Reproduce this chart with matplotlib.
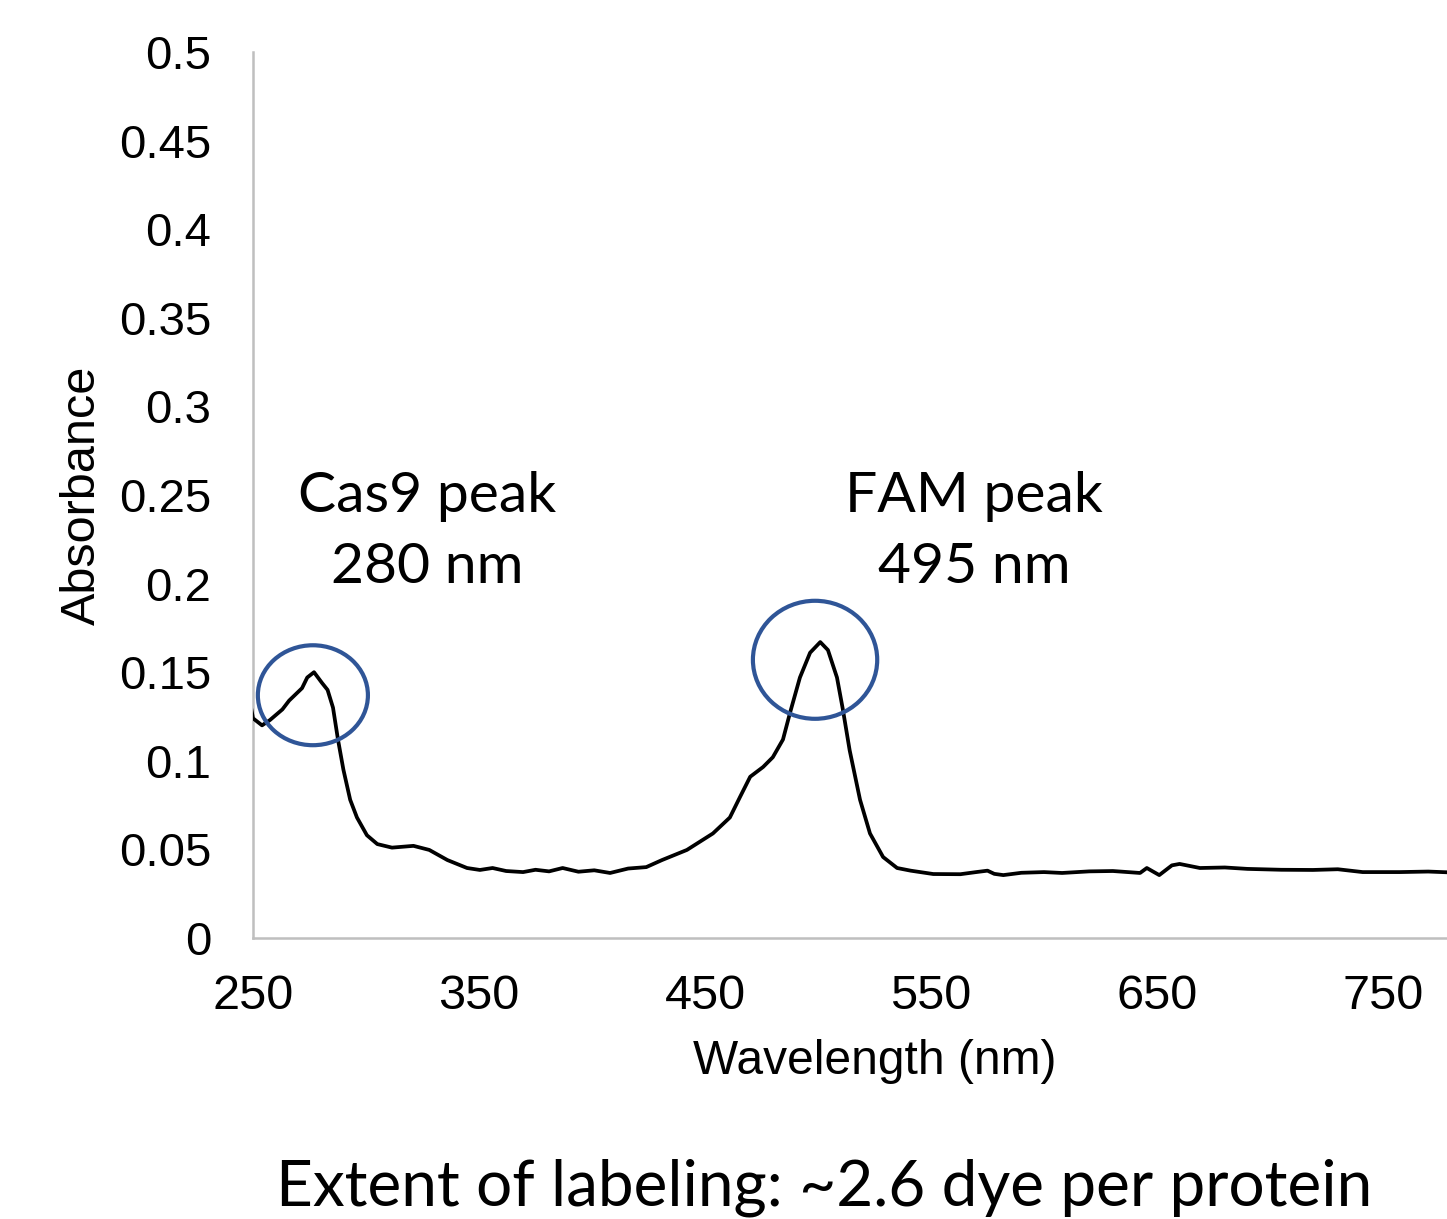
import numpy as np
import matplotlib
matplotlib.use("Agg")
import matplotlib.pyplot as plt
from matplotlib.patches import Ellipse

# ─── Data ───────────────────────────────────────────────────────────
wavelength = [249, 250, 254, 257.5, 263, 266, 271.7, 274, 277, 280.5, 283,
              285.4, 287.6, 290, 293, 296, 300.4, 305, 311.5, 321, 328, 336,
              344.7, 350.4, 356, 362, 369.5, 375, 381, 387, 394, 401, 408,
              416, 424, 431, 442, 453.5, 461, 465.5, 470, 475.7, 480, 484.5,
              487.6, 492, 496.5, 501, 504.4, 508.4, 511, 514, 518.6, 523,
              528.8, 535, 541, 551, 563, 570, 575, 578, 582, 590, 600, 608,
              620, 630.5, 642.5, 645.5, 651, 656.6, 660, 669, 680, 690, 705,
              719, 730, 741, 757.5, 770, 780]
absorbance = [0.131, 0.124, 0.120, 0.123, 0.129, 0.134, 0.141, 0.147, 0.150,
              0.144, 0.140, 0.130, 0.112, 0.095, 0.078, 0.068, 0.058, 0.053,
              0.051, 0.052, 0.0497, 0.044, 0.0395, 0.0384, 0.0395, 0.0378,
              0.0372, 0.0385, 0.0376, 0.0395, 0.0374, 0.0382, 0.0367, 0.0392,
              0.040, 0.044, 0.0497, 0.059, 0.068, 0.0796, 0.091, 0.0965,
              0.102, 0.112, 0.127, 0.147, 0.161, 0.167, 0.1625, 0.147, 0.129,
              0.106, 0.078, 0.059, 0.0457, 0.0395, 0.038, 0.0361, 0.036,
              0.0372, 0.038, 0.0362, 0.0355, 0.0368, 0.0372, 0.0367, 0.0376,
              0.0378, 0.0367, 0.0395, 0.0355, 0.041, 0.0418, 0.0395, 0.0398,
              0.039, 0.0385, 0.0384, 0.0388, 0.0372, 0.0372, 0.0375, 0.037]

peaks = [
    # (label, circle centre x, centre y, width nm, height abs, text x, text y)
    ("Cas9 peak\n280 nm", 276.5, 0.137, 48.7, 0.0564, 327, 0.229),
    ("FAM peak\n495 nm", 498.7, 0.157, 55.0, 0.0666, 569, 0.229),
]

BLUE = "#2F5597"
GRID = "#BFBFBF"

fig = plt.figure(figsize=(14.47, 12.19), dpi=100)
ax = fig.add_axes([253 / 1447, 281 / 1219, 1243 / 1447, 886 / 1219])

ax.plot(wavelength, absorbance, color="black", linewidth=2.7, zorder=3)

for label, cx, cy, w, h, tx, ty in peaks:
    ax.add_patch(Ellipse((cx, cy), w, h, fill=False, edgecolor=BLUE,
                         linewidth=3, zorder=4))
    ax.text(tx, ty, label, ha="center", va="center", fontsize=41,
            family="Lato", linespacing=1.5)

ax.set_xlim(250, 800)
ax.set_ylim(0, 0.5)
ax.set_xticks(np.arange(250, 800, 100))
ax.set_yticks(np.arange(0, 0.501, 0.05))
ax.set_yticklabels(["0", "0.05", "0.1", "0.15", "0.2", "0.25", "0.3",
                    "0.35", "0.4", "0.45", "0.5"])
ax.tick_params(length=0, labelsize=34, pad=30)
ax.tick_params(axis="x", labelsize=35, pad=26)
for lab in ax.get_xticklabels() + ax.get_yticklabels():
    lab.set_family("Liberation Sans")

for side in ["top", "right"]:
    ax.spines[side].set_visible(False)
for side in ["left", "bottom"]:
    ax.spines[side].set_color(GRID)
    ax.spines[side].set_linewidth(1.8)

ax.set_xlabel("Wavelength (nm)", fontsize=34.5, family="Liberation Sans",
              labelpad=14)
ax.set_ylabel("Absorbance", fontsize=35,
              family=["Liberation Sans Narrow", "Liberation Sans"],
              labelpad=10)

fig.text(824 / 1447, 1 - 1188 / 1219, "Extent of labeling: ~2.6 dye per protein",
         ha="center", va="center", fontsize=46, family="Lato")

fig.savefig("out.png", dpi=100)
